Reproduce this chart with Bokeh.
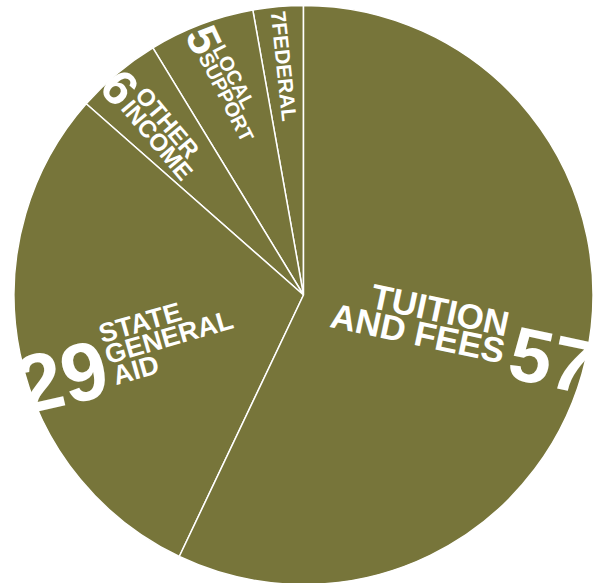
import math
from bokeh.plotting import figure
from bokeh.models import Range1d, ColumnDataSource
from bokeh.embed import file_html
from bokeh.resources import INLINE
from bokeh.core.properties import value

# ---- data ----
categories = ["TUITION AND FEES", "STATE GENERAL AID", "OTHER INCOME", "LOCAL SUPPORT", "FEDERAL"]
shares = [57.0, 29.4, 4.8, 5.9, 2.8]          # slice sizes as drawn
value_labels = ["57", "29", "6", "5", "7"]      # numbers printed on the slices

# ---- styling / layout ----
W, H = 594, 583
OLIVE = "#77753A"
FONT = "Liberation Sans"

p = figure(width=W, height=H, x_range=Range1d(0, W), y_range=Range1d(0, H),
           output_backend="svg", toolbar_location=None, min_border=0,
           x_axis_location=None, y_axis_location=None)
p.grid.visible = False
p.outline_line_color = None
p.background_fill_color = "white"
p.border_fill_color = "white"

# pie centre / radius in pixel units (1 data unit == 1 px)
CSX, CSY = 303, 294.5          # centre, measured from the top-left corner
cx, cy = CSX, H - CSY
R = 289.5

# slices drawn counter-clockwise from 12 o'clock: federal, local, other, state, tuition
total = sum(shares)
order = list(range(len(categories)))[::-1]
starts, ends, names = [], [], []
a = math.pi / 2
for i in order:
    b = a + shares[i] / total * 2 * math.pi
    starts.append(a)
    ends.append(b)
    names.append(categories[i])
    a = b

src = ColumnDataSource(dict(x=[cx] * len(names), y=[cy] * len(names),
                            start=starts, end=ends, name=names))
p.wedge(x="x", y="y", radius=R, start_angle="start", end_angle="end", source=src,
        fill_color=OLIVE, line_color="white", line_width=1.5)

# labels: (text, baseline anchor x, y from top-left, font px, angle deg, align)
num = dict(zip(categories, value_labels))
items = [
    ("TUITION", 506, 333, 35, -12, "right"),
    ("AND FEES", 502, 360, 35, -12, "right"),
    (num["TUITION AND FEES"], 506, 371, 76, -12, "left"),
    (num["STATE GENERAL AID"], 22, 408, 82, 13, "left"),
    ("STATE", 101, 341, 27, 16, "left"),
    ("GENERAL", 107, 362, 27, 16, "left"),
    ("AID", 115, 383, 27, 16, "left"),
    (num["OTHER INCOME"], 100, 85, 50, -50, "left"),
    ("OTHER", 135, 94, 24, -50, "left"),
    ("INCOME", 121, 107, 24, -50, "left"),
    (num["LOCAL SUPPORT"], 187, 33, 45, -65, "left"),
    ("LOCAL", 213, 48, 20, -63, "left"),
    ("SUPPORT", 199, 56, 20, -63, "left"),
    (num["FEDERAL"] + "FEDERAL", 272, 11, 21, -84, "left"),
]
K = 0.27   # Bokeh's "alphabetic" sits at the bottom of the line box; lift to true baseline
for text, sx, sy, size, ang, align in items:
    t = math.radians(ang)
    x = cx + (sx - CSX) - K * size * math.sin(t)
    y = cy - (sy - CSY) + K * size * math.cos(t)
    p.text(x=[x], y=[y], text=[text], angle=t,
           text_font=value(FONT), text_font_style="bold",
           text_font_size=f"{size}px", text_color="white",
           text_align=align, text_baseline="alphabetic")

open("out.html", "w").write(file_html(p, INLINE))
